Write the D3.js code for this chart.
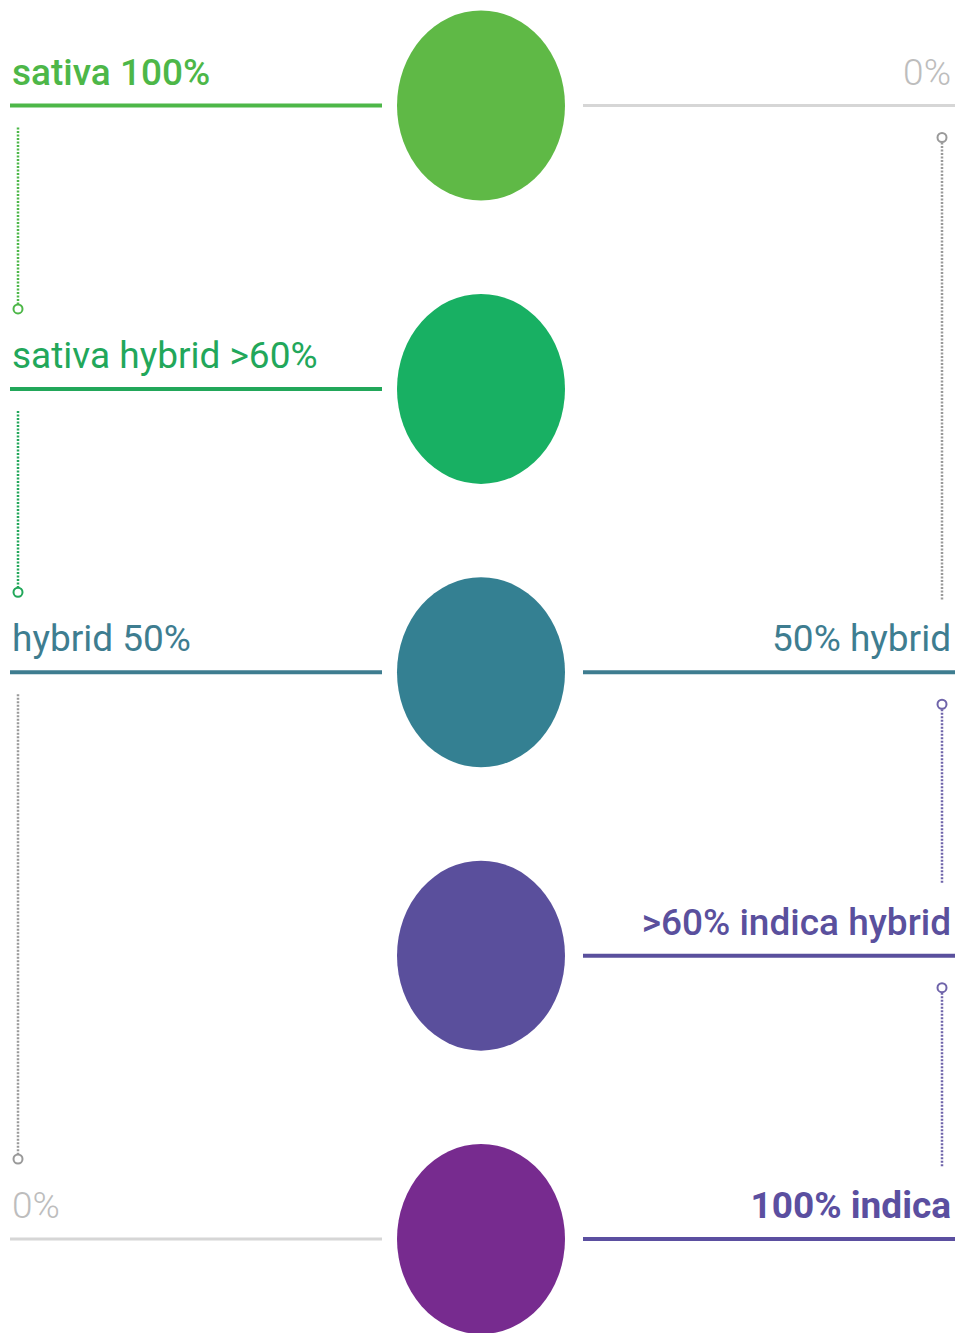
<!DOCTYPE html>
<html>
<head>
<meta charset="utf-8">
<script src="https://cdn.jsdelivr.net/npm/d3@7"></script>
<style>
  body { margin: 0; background: #fff; }
  svg { display: block; }
</style>
</head>
<body>
<div id="chart"></div>
<script>
// sativa -> indica scale

var width = 963, height = 1333

// one row per strain type
var types = ['sativa', 'sativa hybrid', 'hybrid', 'indica hybrid', 'indica']
var leftLabels = ['sativa 100%', 'sativa hybrid >60%', 'hybrid 50%', null, '0%']
var rightLabels = ['0%', null, '50% hybrid', '>60% indica hybrid', '100% indica']
var dotColors = ['#5fb946', '#18b063', '#348092', '#5a4f9c', '#772b8f']
var labelColors = ['#4db748', '#22a75a', '#3e7d90', '#5a509d', '#5b4fa0']

// dotted connectors: side, from row, to row
var connectors = [
  { side: 'left', from: 0, to: 1, color: '#4db748' },
  { side: 'left', from: 1, to: 2, color: '#22a75a' },
  { side: 'left', from: 2, to: 4, color: '#9a9a9a' },
  { side: 'right', from: 0, to: 2, color: '#9a9a9a' },
  { side: 'right', from: 2, to: 3, color: '#6f64aa' },
  { side: 'right', from: 3, to: 4, color: '#6f64aa' }
]

var weight = { 'sativa 100%': 500, 'sativa hybrid >60%': 400, 'hybrid 50%': 400,
  '0%': 300, '50% hybrid': 400, '>60% indica hybrid': 500, '100% indica': 700 }

var grey = '#d6d6d6', greyText = '#bdbdbd'

var y = d3.scaleLinear()
    .domain([0, types.length - 1])
    .range([105.5, 1239])

var cx = 481

var svg = d3.select('#chart')
  .append('svg')
    .attr('width', width)
    .attr('height', height)
    .attr('viewBox', [0, 0, width, height])

var isGrey = t => t === '0%'

// left rule + label
var left = svg.append('g')
  .selectAll('g')
  .data(types.map((t, i) => ({ i: i, label: leftLabels[i] })).filter(d => d.label))
  .join('g')

left.append('line')
    .attr('x1', 10).attr('x2', 382)
    .attr('y1', d => y(d.i)).attr('y2', d => y(d.i))
    .attr('stroke', d => isGrey(d.label) ? grey : labelColors[d.i])
    .attr('stroke-width', d => isGrey(d.label) ? 3 : 4)

left.append('text')
    .attr('x', 12)
    .attr('y', d => y(d.i) - 21)
    .attr('fill', d => isGrey(d.label) ? greyText : labelColors[d.i])
    .style('font', d => weight[d.label] + ' 37px Roboto, sans-serif')
    .text(d => d.label)

// right rule + label
var right = svg.append('g')
  .selectAll('g')
  .data(types.map((t, i) => ({ i: i, label: rightLabels[i] })).filter(d => d.label))
  .join('g')

right.append('line')
    .attr('x1', 583).attr('x2', 955)
    .attr('y1', d => y(d.i)).attr('y2', d => y(d.i))
    .attr('stroke', d => isGrey(d.label) ? grey : labelColors[d.i])
    .attr('stroke-width', d => isGrey(d.label) ? 3 : 4)

right.append('text')
    .attr('x', 951)
    .attr('y', d => y(d.i) - 21)
    .attr('text-anchor', 'end')
    .attr('fill', d => isGrey(d.label) ? greyText : labelColors[d.i])
    .style('font', d => weight[d.label] + ' 37px Roboto, sans-serif')
    .text(d => d.label)

// connectors
var cxLeft = 18, cxRight = 942

var conn = svg.append('g')
  .selectAll('g')
  .data(connectors)
  .join('g')

conn.append('line')
    .attr('x1', d => d.side === 'left' ? cxLeft : cxRight)
    .attr('x2', d => d.side === 'left' ? cxLeft : cxRight)
    .attr('y1', d => d.side === 'left' ? y(d.from) + 22 : y(d.from) + 37)
    .attr('y2', d => d.side === 'left' ? y(d.to) - 84 : y(d.to) - 72)
    .attr('stroke', d => d.color)
    .attr('stroke-width', 2.5)
    .attr('stroke-dasharray', '2,1.5')

conn.append('circle')
    .attr('cx', d => d.side === 'left' ? cxLeft : cxRight)
    .attr('cy', d => d.side === 'left' ? y(d.to) - 80 : y(d.from) + 32)
    .attr('r', 4.5)
    .attr('fill', '#fff')
    .attr('stroke', d => d.color)
    .attr('stroke-width', 2)

// big dots
svg.append('g')
  .selectAll('ellipse')
  .data(types)
  .join('ellipse')
    .attr('cx', cx)
    .attr('cy', (d, i) => y(i))
    .attr('rx', 84)
    .attr('ry', 95)
    .attr('fill', (d, i) => dotColors[i])
</script>
</body>
</html>
